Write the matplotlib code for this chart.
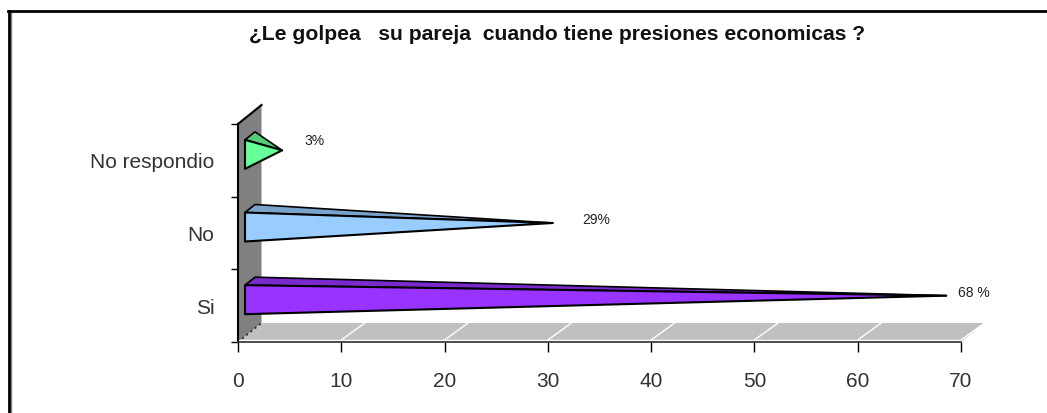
import matplotlib
matplotlib.use("Agg")
import matplotlib.pyplot as plt
from matplotlib.patches import Polygon

plt.rcParams['font.family'] = ['Liberation Sans', 'DejaVu Sans']

categories = ["Si", "No", "No respondio"]
values = [67.9, 29.8, 3.6]
value_labels = ["68 %", "29%", "3%"]
x_ticks = [0, 10, 20, 30, 40, 50, 60, 70]
front_colors = ["#9933ff", "#99ccff", "#66ff99"]
top_colors = ["#7a29cc", "#7aa3cc", "#52cc7a"]
title = "¿Le golpea   su pareja  cuando tiene presiones economicas ?"

W, H = 1047, 414
fig = plt.figure(figsize=(W / 100, H / 100), dpi=100)
ax = fig.add_axes([238 / W, 1 - 343 / H, 723 / W, 218 / H])
ax.set_xlim(0, 70)
ax.set_ylim(0, 3)

# one pixel in data units, the 3d look is all offsets in pixels
px = 70 / 723
py = 3 / 218
depth_x = 23.5 * px
depth_y = 19 * py

# floor and wall
ax.add_patch(Polygon([(0, 0), (70, 0), (70 + depth_x, depth_y), (depth_x, depth_y)],
                     fc="#c0c0c0", ec="none", clip_on=False, zorder=1))
ax.add_patch(Polygon([(0, 0), (0, 3), (depth_x, 3 + depth_y), (depth_x, depth_y)],
                     fc="#808080", ec="none", clip_on=False, zorder=1))
ax.plot([0, depth_x], [3, 3 + depth_y], color="black", lw=1.5, clip_on=False, zorder=2)
ax.plot([0, depth_x], [0, depth_y], color="#222222", lw=1.3, ls=(0, (1, 2)), clip_on=False, zorder=2)

for t in x_ticks[1:]:
    ax.plot([t, t + depth_x], [2 * py, depth_y], color="white", lw=1.0, clip_on=False, zorder=2)
ax.plot([0, 70], [2 * py, 2 * py], color="white", lw=1.0, zorder=2)

# cones
for i, v in enumerate(values):
    x0 = 7 * px
    yc = i + 0.5 + 6 * py
    half = 14.5 * py
    apex = (x0 + v, yc + 4 * py)
    top_l = (x0, yc + half)
    back = (x0 + 10 * px, yc + half + 8 * py)
    bot_l = (x0, yc - half)
    ax.add_patch(Polygon([top_l, back, apex], fc=top_colors[i], ec="black", lw=1.2,
                         joinstyle="round", clip_on=False, zorder=3))
    ax.add_patch(Polygon([top_l, apex, bot_l], fc=front_colors[i], ec="black", lw=1.5,
                         joinstyle="round", clip_on=False, zorder=4))

label_x = [69.7, 33.3, 6.4]
label_y = [0.69, 1.69, 2.78]
for i, lab in enumerate(value_labels):
    ax.text(label_x[i], label_y[i], lab, fontsize=10, color="#222222",
            ha="left", va="center", zorder=5)

for s in ["top", "right"]:
    ax.spines[s].set_visible(False)
ax.spines["left"].set_linewidth(1.5)
ax.spines["bottom"].set_linewidth(1.2)
ax.spines["bottom"].set_color("#333333")
ax.patch.set_alpha(0)

ax.set_xticks(x_ticks)
ax.set_yticks([0, 1, 2, 3])
ax.set_yticklabels([])
ax.tick_params(axis="x", length=7, width=1, pad=14, labelsize=15, labelcolor="#333333")
ax.tick_params(axis="y", length=5, width=1)

for i, c in enumerate(categories):
    ax.text(-2.3, i + 0.5 - 1.5 * py, c, fontsize=15, color="#333333", ha="right", va="center")

fig.text(557 / W, 1 - 35 / H, title, fontsize=15.2, fontweight="bold", color="#111111",
         ha="center", va="center")

# picture frame, only top and left are in the crop
fig.add_artist(plt.Line2D([10.7 / W, 10.7 / W], [0, 1 - 13 / H], color="#808080", lw=1))
fig.add_artist(plt.Line2D([9 / W, 9 / W], [0, 1 - 12 / H], color="black", lw=2))
fig.add_artist(plt.Line2D([8 / W, 1], [1 - 12 / H, 1 - 12 / H], color="black", lw=2))

fig.savefig("out.png", dpi=100)
